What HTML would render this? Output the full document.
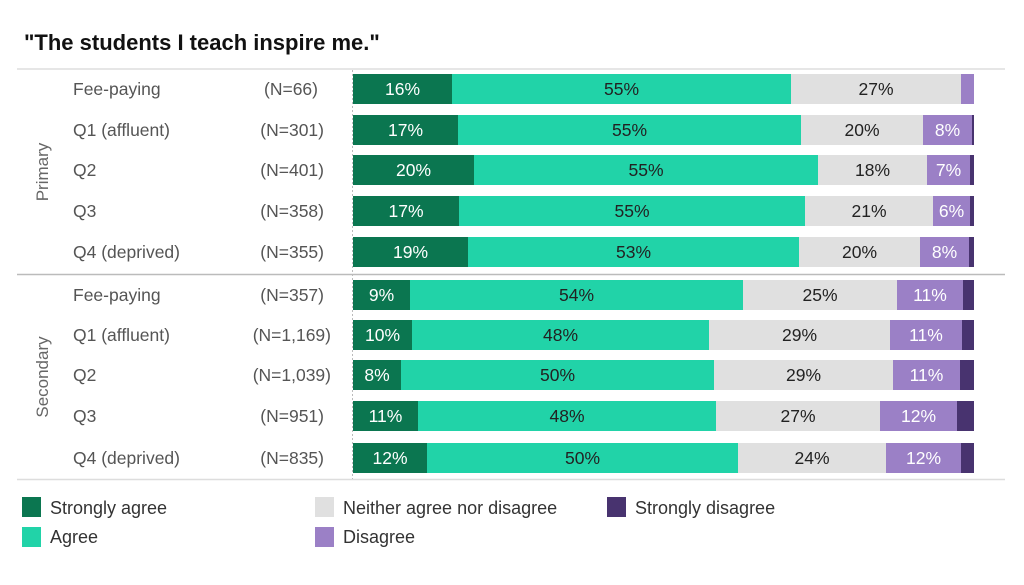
<!DOCTYPE html>
<html><head><meta charset="utf-8"><style>
html,body{margin:0;padding:0;background:#fff;}
svg{display:block;font-family:"Liberation Sans",sans-serif;}
</style></head><body>
<svg width="1024" height="585" xmlns="http://www.w3.org/2000/svg">
<text x="24" y="50" font-size="22" font-weight="bold" fill="#111">"The students I teach inspire me."</text>
<line x1="17" y1="69" x2="1005" y2="69" stroke="#ddd" stroke-width="1.5"/>
<line x1="17" y1="274.5" x2="1005" y2="274.5" stroke="#bbb" stroke-width="1.5"/>
<line x1="17" y1="479.5" x2="1005" y2="479.5" stroke="#ddd" stroke-width="1.5"/>
<line x1="352.5" y1="70" x2="352.5" y2="479" stroke="#bbb" stroke-dasharray="2,2"/>
<text transform="translate(48,172) rotate(-90)" font-size="17" fill="#666" text-anchor="middle">Primary</text>
<text transform="translate(48,377) rotate(-90)" font-size="17" fill="#666" text-anchor="middle">Secondary</text>
<g font-size="17.5" fill="#555">
<text x="73" y="95">Fee-paying</text><text x="318" y="95" text-anchor="end">(N=66)</text>
<text x="73" y="136">Q1 (affluent)</text><text x="324" y="136" text-anchor="end">(N=301)</text>
<text x="73" y="176">Q2</text><text x="324" y="176" text-anchor="end">(N=401)</text>
<text x="73" y="217">Q3</text><text x="324" y="217" text-anchor="end">(N=358)</text>
<text x="73" y="258">Q4 (deprived)</text><text x="324" y="258" text-anchor="end">(N=355)</text>
<text x="73" y="301">Fee-paying</text><text x="324" y="301" text-anchor="end">(N=357)</text>
<text x="73" y="341">Q1 (affluent)</text><text x="331" y="341" text-anchor="end">(N=1,169)</text>
<text x="73" y="381">Q2</text><text x="331" y="381" text-anchor="end">(N=1,039)</text>
<text x="73" y="422">Q3</text><text x="324" y="422" text-anchor="end">(N=951)</text>
<text x="73" y="464">Q4 (deprived)</text><text x="324" y="464" text-anchor="end">(N=835)</text>
</g>
<g id="bars" font-size="17.5" text-anchor="middle"></g>
<g font-size="18" fill="#333">
<rect x="22" y="497" width="19" height="20" fill="#0b7650"/><text x="50" y="514">Strongly agree</text>
<rect x="22" y="527" width="19" height="20" fill="#21d3a8"/><text x="50" y="543">Agree</text>
<rect x="315" y="497" width="19" height="20" fill="#e0e0e0"/><text x="343" y="514">Neither agree nor disagree</text>
<rect x="315" y="527" width="19" height="20" fill="#9b80c6"/><text x="343" y="543">Disagree</text>
<rect x="607" y="497" width="19" height="20" fill="#48336f"/><text x="635" y="514">Strongly disagree</text>
</g>
</svg>
<script>
var rows=[[89,[353,452,791,961,974,974],["16%","55%","27%","",""]],
[130,[353,458,801,923,972,974],["17%","55%","20%","8%",""]],
[170,[353,474,818,927,970,974],["20%","55%","18%","7%",""]],
[211,[353,459,805,933,970,974],["17%","55%","21%","6%",""]],
[252,[353,468,799,920,969,974],["19%","53%","20%","8%",""]],
[295,[353,410,743,897,963,974],["9%","54%","25%","11%",""]],
[335,[353,412,709,890,962,974],["10%","48%","29%","11%",""]],
[375,[353,401,714,893,960,974],["8%","50%","29%","11%",""]],
[416,[353,418,716,880,957,974],["11%","48%","27%","12%",""]],
[458,[353,427,738,886,961,974],["12%","50%","24%","12%",""]]];
var cols=["#0b7650","#21d3a8","#e0e0e0","#9b80c6","#48336f"],tc=["#fff","#222","#222","#fff","#fff"];
var s="";
rows.forEach(function(r){var y=r[0]-15;for(var i=0;i<5;i++){var a=r[1][i],b=r[1][i+1];if(b>a)s+='<rect x="'+a+'" y="'+y+'" width="'+(b-a)+'" height="30" fill="'+cols[i]+'"/>';if(r[2][i])s+='<text x="'+((a+b)/2)+'" y="'+(r[0]+6)+'" fill="'+tc[i]+'">'+r[2][i]+'</text>';}});
document.getElementById("bars").innerHTML=s;
</script>
</body></html>
